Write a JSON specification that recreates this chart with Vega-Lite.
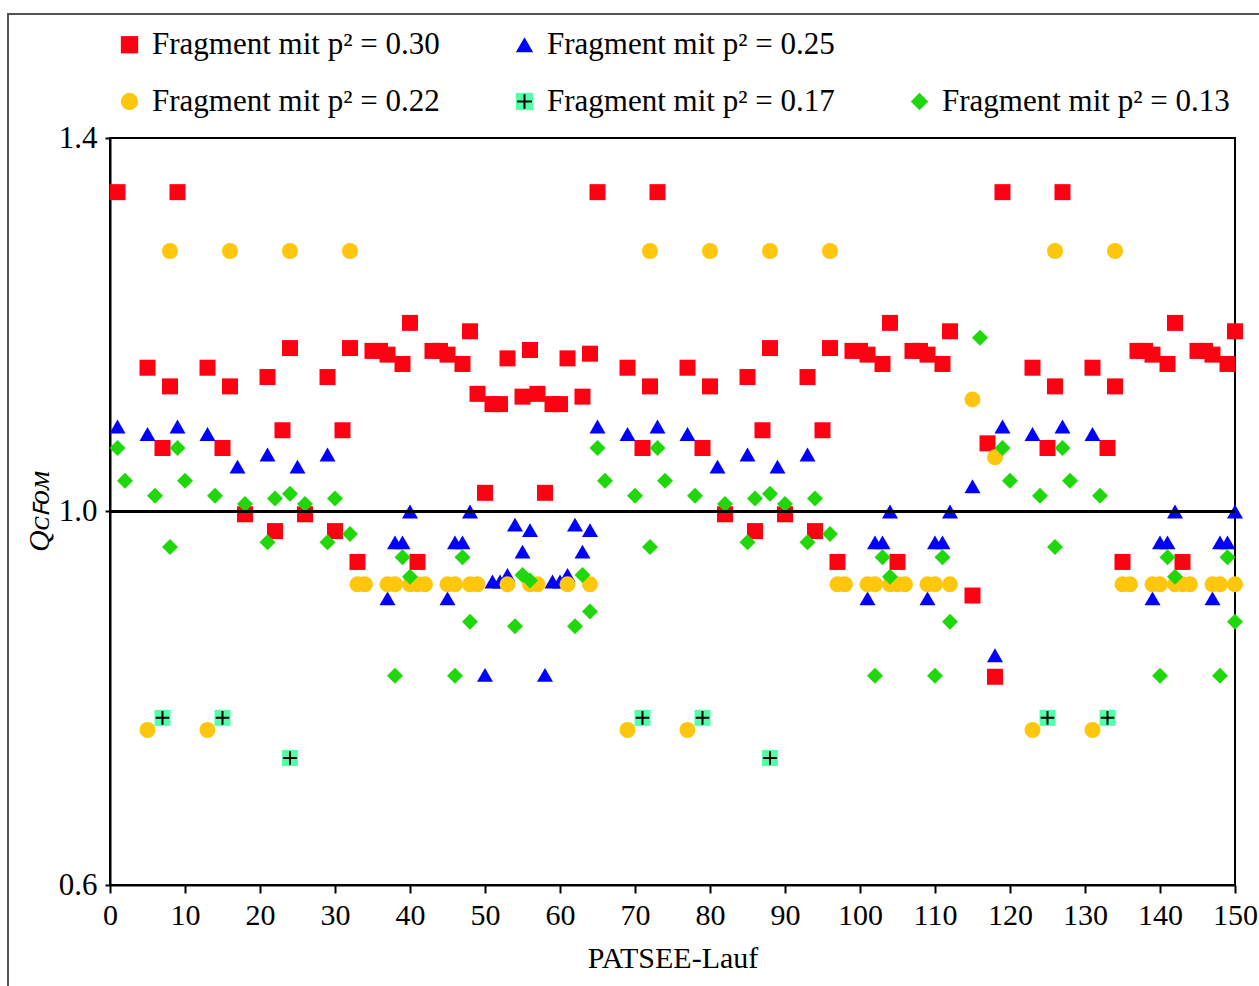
{
 "$schema": "https://vega.github.io/schema/vega-lite/v6.json",
 "width": 1125, "height": 747,
 "autosize": {"type": "none"},
 "padding": {"left": 110, "top": 138, "right": 24, "bottom": 101},
 "background": "white",
 "config": {"view": {"stroke": "black", "strokeWidth": 2}, "font": "Liberation Serif"},
 "data": {"values": [
  {"r":1,"q":1.342,"f":"0.30"},{"r":5,"q":1.154,"f":"0.30"},{"r":7,"q":1.068,"f":"0.30"},{"r":8,"q":1.134,"f":"0.30"},{"r":9,"q":1.342,"f":"0.30"},{"r":13,"q":1.154,"f":"0.30"},{"r":15,"q":1.068,"f":"0.30"},{"r":16,"q":1.134,"f":"0.30"},{"r":18,"q":0.997,"f":"0.30"},{"r":21,"q":1.144,"f":"0.30"},{"r":22,"q":0.979,"f":"0.30"},{"r":23,"q":1.087,"f":"0.30"},{"r":24,"q":1.175,"f":"0.30"},{"r":26,"q":0.997,"f":"0.30"},{"r":29,"q":1.144,"f":"0.30"},{"r":30,"q":0.979,"f":"0.30"},{"r":31,"q":1.087,"f":"0.30"},{"r":32,"q":1.175,"f":"0.30"},
  {"r":33,"q":0.946,"f":"0.30"},{"r":35,"q":1.172,"f":"0.30"},{"r":36,"q":1.172,"f":"0.30"},{"r":37,"q":1.168,"f":"0.30"},{"r":39,"q":1.158,"f":"0.30"},{"r":40,"q":1.202,"f":"0.30"},{"r":41,"q":0.946,"f":"0.30"},{"r":43,"q":1.172,"f":"0.30"},{"r":44,"q":1.172,"f":"0.30"},{"r":45,"q":1.168,"f":"0.30"},{"r":47,"q":1.158,"f":"0.30"},{"r":48,"q":1.193,"f":"0.30"},
  {"r":49,"q":1.126,"f":"0.30"},{"r":50,"q":1.020,"f":"0.30"},{"r":51,"q":1.115,"f":"0.30"},{"r":52,"q":1.115,"f":"0.30"},{"r":53,"q":1.164,"f":"0.30"},{"r":55,"q":1.123,"f":"0.30"},{"r":56,"q":1.173,"f":"0.30"},{"r":57,"q":1.126,"f":"0.30"},{"r":58,"q":1.020,"f":"0.30"},{"r":59,"q":1.115,"f":"0.30"},{"r":60,"q":1.115,"f":"0.30"},{"r":61,"q":1.164,"f":"0.30"},{"r":63,"q":1.123,"f":"0.30"},{"r":64,"q":1.169,"f":"0.30"},
  {"r":65,"q":1.342,"f":"0.30"},{"r":69,"q":1.154,"f":"0.30"},{"r":71,"q":1.068,"f":"0.30"},{"r":72,"q":1.134,"f":"0.30"},{"r":73,"q":1.342,"f":"0.30"},{"r":77,"q":1.154,"f":"0.30"},{"r":79,"q":1.068,"f":"0.30"},{"r":80,"q":1.134,"f":"0.30"},{"r":82,"q":0.997,"f":"0.30"},{"r":85,"q":1.144,"f":"0.30"},{"r":86,"q":0.979,"f":"0.30"},{"r":87,"q":1.087,"f":"0.30"},{"r":88,"q":1.175,"f":"0.30"},{"r":90,"q":0.997,"f":"0.30"},{"r":93,"q":1.144,"f":"0.30"},{"r":94,"q":0.979,"f":"0.30"},{"r":95,"q":1.087,"f":"0.30"},{"r":96,"q":1.175,"f":"0.30"},
  {"r":97,"q":0.946,"f":"0.30"},{"r":99,"q":1.172,"f":"0.30"},{"r":100,"q":1.172,"f":"0.30"},{"r":101,"q":1.168,"f":"0.30"},{"r":103,"q":1.158,"f":"0.30"},{"r":104,"q":1.202,"f":"0.30"},{"r":105,"q":0.946,"f":"0.30"},{"r":107,"q":1.172,"f":"0.30"},{"r":108,"q":1.172,"f":"0.30"},{"r":109,"q":1.168,"f":"0.30"},{"r":111,"q":1.158,"f":"0.30"},{"r":112,"q":1.193,"f":"0.30"},
  {"r":115,"q":0.910,"f":"0.30"},{"r":117,"q":1.073,"f":"0.30"},{"r":118,"q":0.823,"f":"0.30"},
  {"r":119,"q":1.342,"f":"0.30"},{"r":123,"q":1.154,"f":"0.30"},{"r":125,"q":1.068,"f":"0.30"},{"r":126,"q":1.134,"f":"0.30"},{"r":127,"q":1.342,"f":"0.30"},{"r":131,"q":1.154,"f":"0.30"},{"r":133,"q":1.068,"f":"0.30"},{"r":134,"q":1.134,"f":"0.30"},
  {"r":135,"q":0.946,"f":"0.30"},{"r":137,"q":1.172,"f":"0.30"},{"r":138,"q":1.172,"f":"0.30"},{"r":139,"q":1.168,"f":"0.30"},{"r":141,"q":1.158,"f":"0.30"},{"r":142,"q":1.202,"f":"0.30"},{"r":143,"q":0.946,"f":"0.30"},{"r":145,"q":1.172,"f":"0.30"},{"r":146,"q":1.172,"f":"0.30"},{"r":147,"q":1.168,"f":"0.30"},{"r":149,"q":1.158,"f":"0.30"},{"r":150,"q":1.193,"f":"0.30"},

  {"r":1,"q":1.091,"f":"0.25"},{"r":5,"q":1.083,"f":"0.25"},{"r":9,"q":1.091,"f":"0.25"},{"r":13,"q":1.083,"f":"0.25"},{"r":17,"q":1.048,"f":"0.25"},{"r":21,"q":1.061,"f":"0.25"},{"r":25,"q":1.048,"f":"0.25"},{"r":29,"q":1.061,"f":"0.25"},
  {"r":37,"q":0.907,"f":"0.25"},{"r":38,"q":0.967,"f":"0.25"},{"r":39,"q":0.967,"f":"0.25"},{"r":40,"q":1.0,"f":"0.25"},{"r":45,"q":0.907,"f":"0.25"},{"r":46,"q":0.967,"f":"0.25"},{"r":47,"q":0.967,"f":"0.25"},{"r":48,"q":1.0,"f":"0.25"},
  {"r":50,"q":0.825,"f":"0.25"},{"r":51,"q":0.925,"f":"0.25"},{"r":52,"q":0.925,"f":"0.25"},{"r":53,"q":0.932,"f":"0.25"},{"r":54,"q":0.986,"f":"0.25"},{"r":55,"q":0.957,"f":"0.25"},{"r":56,"q":0.980,"f":"0.25"},{"r":58,"q":0.825,"f":"0.25"},{"r":59,"q":0.925,"f":"0.25"},{"r":60,"q":0.925,"f":"0.25"},{"r":61,"q":0.932,"f":"0.25"},{"r":62,"q":0.986,"f":"0.25"},{"r":63,"q":0.957,"f":"0.25"},{"r":64,"q":0.980,"f":"0.25"},
  {"r":65,"q":1.091,"f":"0.25"},{"r":69,"q":1.083,"f":"0.25"},{"r":73,"q":1.091,"f":"0.25"},{"r":77,"q":1.083,"f":"0.25"},{"r":81,"q":1.048,"f":"0.25"},{"r":85,"q":1.061,"f":"0.25"},{"r":89,"q":1.048,"f":"0.25"},{"r":93,"q":1.061,"f":"0.25"},
  {"r":101,"q":0.907,"f":"0.25"},{"r":102,"q":0.967,"f":"0.25"},{"r":103,"q":0.967,"f":"0.25"},{"r":104,"q":1.0,"f":"0.25"},{"r":109,"q":0.907,"f":"0.25"},{"r":110,"q":0.967,"f":"0.25"},{"r":111,"q":0.967,"f":"0.25"},{"r":112,"q":1.0,"f":"0.25"},
  {"r":115,"q":1.027,"f":"0.25"},{"r":118,"q":0.846,"f":"0.25"},
  {"r":119,"q":1.091,"f":"0.25"},{"r":123,"q":1.083,"f":"0.25"},{"r":127,"q":1.091,"f":"0.25"},{"r":131,"q":1.083,"f":"0.25"},
  {"r":139,"q":0.907,"f":"0.25"},{"r":140,"q":0.967,"f":"0.25"},{"r":141,"q":0.967,"f":"0.25"},{"r":142,"q":1.0,"f":"0.25"},{"r":147,"q":0.907,"f":"0.25"},{"r":148,"q":0.967,"f":"0.25"},{"r":149,"q":0.967,"f":"0.25"},{"r":150,"q":1.0,"f":"0.25"},

  {"r":5,"q":0.766,"f":"0.22"},{"r":8,"q":1.279,"f":"0.22"},{"r":13,"q":0.766,"f":"0.22"},{"r":16,"q":1.279,"f":"0.22"},{"r":24,"q":1.279,"f":"0.22"},{"r":32,"q":1.279,"f":"0.22"},
  {"r":33,"q":0.922,"f":"0.22"},{"r":34,"q":0.922,"f":"0.22"},{"r":37,"q":0.922,"f":"0.22"},{"r":38,"q":0.922,"f":"0.22"},{"r":40,"q":0.922,"f":"0.22"},{"r":41,"q":0.922,"f":"0.22"},{"r":42,"q":0.922,"f":"0.22"},{"r":45,"q":0.922,"f":"0.22"},{"r":46,"q":0.922,"f":"0.22"},{"r":48,"q":0.922,"f":"0.22"},
  {"r":49,"q":0.922,"f":"0.22"},{"r":53,"q":0.922,"f":"0.22"},{"r":56,"q":0.922,"f":"0.22"},{"r":57,"q":0.922,"f":"0.22"},{"r":61,"q":0.922,"f":"0.22"},{"r":64,"q":0.922,"f":"0.22"},
  {"r":69,"q":0.766,"f":"0.22"},{"r":72,"q":1.279,"f":"0.22"},{"r":77,"q":0.766,"f":"0.22"},{"r":80,"q":1.279,"f":"0.22"},{"r":88,"q":1.279,"f":"0.22"},{"r":96,"q":1.279,"f":"0.22"},
  {"r":97,"q":0.922,"f":"0.22"},{"r":98,"q":0.922,"f":"0.22"},{"r":101,"q":0.922,"f":"0.22"},{"r":102,"q":0.922,"f":"0.22"},{"r":104,"q":0.922,"f":"0.22"},{"r":105,"q":0.922,"f":"0.22"},{"r":106,"q":0.922,"f":"0.22"},{"r":109,"q":0.922,"f":"0.22"},{"r":110,"q":0.922,"f":"0.22"},{"r":112,"q":0.922,"f":"0.22"},
  {"r":115,"q":1.120,"f":"0.22"},{"r":118,"q":1.058,"f":"0.22"},
  {"r":123,"q":0.766,"f":"0.22"},{"r":126,"q":1.279,"f":"0.22"},{"r":131,"q":0.766,"f":"0.22"},{"r":134,"q":1.279,"f":"0.22"},
  {"r":135,"q":0.922,"f":"0.22"},{"r":136,"q":0.922,"f":"0.22"},{"r":139,"q":0.922,"f":"0.22"},{"r":140,"q":0.922,"f":"0.22"},{"r":142,"q":0.922,"f":"0.22"},{"r":143,"q":0.922,"f":"0.22"},{"r":144,"q":0.922,"f":"0.22"},{"r":147,"q":0.922,"f":"0.22"},{"r":148,"q":0.922,"f":"0.22"},{"r":150,"q":0.922,"f":"0.22"},

  {"r":7,"q":0.779,"f":"0.17"},{"r":15,"q":0.779,"f":"0.17"},{"r":24,"q":0.736,"f":"0.17"},{"r":71,"q":0.779,"f":"0.17"},{"r":79,"q":0.779,"f":"0.17"},{"r":88,"q":0.736,"f":"0.17"},{"r":125,"q":0.779,"f":"0.17"},{"r":133,"q":0.779,"f":"0.17"},

  {"r":1,"q":1.068,"f":"0.13"},{"r":2,"q":1.033,"f":"0.13"},{"r":6,"q":1.017,"f":"0.13"},{"r":8,"q":0.962,"f":"0.13"},{"r":9,"q":1.068,"f":"0.13"},{"r":10,"q":1.033,"f":"0.13"},{"r":14,"q":1.017,"f":"0.13"},{"r":18,"q":1.008,"f":"0.13"},{"r":21,"q":0.967,"f":"0.13"},{"r":22,"q":1.014,"f":"0.13"},{"r":24,"q":1.019,"f":"0.13"},{"r":26,"q":1.008,"f":"0.13"},{"r":29,"q":0.967,"f":"0.13"},{"r":30,"q":1.014,"f":"0.13"},{"r":32,"q":0.976,"f":"0.13"},
  {"r":38,"q":0.824,"f":"0.13"},{"r":39,"q":0.951,"f":"0.13"},{"r":40,"q":0.930,"f":"0.13"},{"r":46,"q":0.824,"f":"0.13"},{"r":47,"q":0.951,"f":"0.13"},{"r":48,"q":0.882,"f":"0.13"},
  {"r":54,"q":0.877,"f":"0.13"},{"r":55,"q":0.932,"f":"0.13"},{"r":56,"q":0.926,"f":"0.13"},{"r":62,"q":0.877,"f":"0.13"},{"r":63,"q":0.932,"f":"0.13"},{"r":64,"q":0.893,"f":"0.13"},
  {"r":65,"q":1.068,"f":"0.13"},{"r":66,"q":1.033,"f":"0.13"},{"r":70,"q":1.017,"f":"0.13"},{"r":72,"q":0.962,"f":"0.13"},{"r":73,"q":1.068,"f":"0.13"},{"r":74,"q":1.033,"f":"0.13"},{"r":78,"q":1.017,"f":"0.13"},{"r":82,"q":1.008,"f":"0.13"},{"r":85,"q":0.967,"f":"0.13"},{"r":86,"q":1.014,"f":"0.13"},{"r":88,"q":1.019,"f":"0.13"},{"r":90,"q":1.008,"f":"0.13"},{"r":93,"q":0.967,"f":"0.13"},{"r":94,"q":1.014,"f":"0.13"},{"r":96,"q":0.976,"f":"0.13"},
  {"r":102,"q":0.824,"f":"0.13"},{"r":103,"q":0.951,"f":"0.13"},{"r":104,"q":0.930,"f":"0.13"},{"r":110,"q":0.824,"f":"0.13"},{"r":111,"q":0.951,"f":"0.13"},{"r":112,"q":0.882,"f":"0.13"},
  {"r":116,"q":1.186,"f":"0.13"},
  {"r":119,"q":1.068,"f":"0.13"},{"r":120,"q":1.033,"f":"0.13"},{"r":124,"q":1.017,"f":"0.13"},{"r":126,"q":0.962,"f":"0.13"},{"r":127,"q":1.068,"f":"0.13"},{"r":128,"q":1.033,"f":"0.13"},{"r":132,"q":1.017,"f":"0.13"},
  {"r":140,"q":0.824,"f":"0.13"},{"r":141,"q":0.951,"f":"0.13"},{"r":142,"q":0.930,"f":"0.13"},{"r":148,"q":0.824,"f":"0.13"},{"r":149,"q":0.951,"f":"0.13"},{"r":150,"q":0.882,"f":"0.13"}
 ]},
 "layer": [
  {
   "mark": {"type": "point", "filled": true, "size": 256, "opacity": 1, "strokeWidth": 0},
   "encoding": {
    "x": {"field": "r", "type": "quantitative",
      "scale": {"domain": [0, 150], "nice": false, "zero": false},
      "axis": {"values": [0,10,20,30,40,50,60,70,80,90,100,110,120,130,140,150], "title": "PATSEE-Lauf", "grid": false,
        "tickSize": 8, "tickColor": "black", "tickWidth": 2, "domainColor": "black", "domainWidth": 2,
        "labelFontSize": 30, "labelColor": "black", "labelPadding": 7, "labelFont": "Liberation Serif", "labelFlush": false,
        "titleFontSize": 30, "titleFont": "Liberation Serif", "titleFontWeight": "normal", "titleColor": "black", "titlePadding": 13}},
    "y": {"field": "q", "type": "quantitative",
      "scale": {"domain": [0.6, 1.4], "nice": false, "zero": false},
      "axis": {"values": [0.6, 1.0, 1.4], "format": ".1f", "title": "Qᴄꜰᴏᴍ", "grid": false,
        "tickSize": 5, "tickColor": "black", "tickWidth": 2, "domainColor": "black", "domainWidth": 2,
        "labelFontSize": 31, "labelColor": "black", "labelPadding": 8, "labelFont": "Liberation Serif",
        "titleFontSize": 30, "titleFont": "Liberation Serif", "titleFontWeight": "normal", "titleFontStyle": "italic", "titleColor": "black", "titlePadding": 4}},
    "color": {"field": "f", "type": "nominal",
      "scale": {"domain": ["0.30", "0.25", "x", "0.22", "0.17", "0.13"], "range": ["#FF0012", "#0000FF", "rgba(0,0,0,0)", "#FFC60E", "#55FFAA", "#1ED80A"]},
      "legend": {"orient": "none", "legendX": 4, "legendY": -109, "direction": "horizontal", "columns": 3, "title": null,
        "labelFontSize": 31, "labelFont": "Liberation Serif", "labelColor": "black", "symbolSize": 300, "labelOffset": 7,
        "columnPadding": 69, "rowPadding": 25, "labelLimit": 0, "padding": 0, "symbolStrokeWidth": 0,
        "labelExpr": "datum.value == 'x' ? '' : 'Fragment mit p² = ' + datum.value"}},
    "shape": {"field": "f", "type": "nominal",
      "scale": {"domain": ["0.30", "0.25", "x", "0.22", "0.17", "0.13"], "range": ["square", "triangle-up", "circle", "circle", "square", "diamond"]}}
   }
  },
  {
   "transform": [{"filter": "datum.f == '0.17'"}],
   "mark": {"type": "point", "shape": "M-0.85,0H0.85M0,-0.85V0.85", "filled": false, "stroke": "black", "strokeWidth": 2, "size": 256},
   "encoding": {
    "x": {"field": "r", "type": "quantitative"},
    "y": {"field": "q", "type": "quantitative"},
    "opacity": {"field": "f", "type": "nominal",
      "scale": {"domain": ["0.17"], "range": [1]},
      "legend": {"orient": "none", "legendX": 399, "legendY": -52, "title": null, "labelExpr": "''", "labelFontSize": 31,
        "symbolType": "M-0.85,0H0.85M0,-0.85V0.85",
        "symbolSize": 300, "symbolStrokeColor": "black", "symbolFillColor": "rgba(0,0,0,0)", "symbolStrokeWidth": 2, "padding": 0, "labelOffset": 7}}
   }
  },
  {
   "mark": {"type": "rule", "color": "black", "strokeWidth": 2},
   "encoding": {"y": {"datum": 1.0, "type": "quantitative"}}
  },
  {
   "mark": {"type": "rect", "fill": null, "filled": false, "stroke": "#555555", "strokeWidth": 1.5, "clip": false},
   "encoding": {
    "x": {"datum": -13.6, "type": "quantitative"}, "x2": {"datum": 200},
    "y": {"datum": 1.533, "type": "quantitative"}, "y2": {"datum": 0.3}
   }
  }
 ]
}
